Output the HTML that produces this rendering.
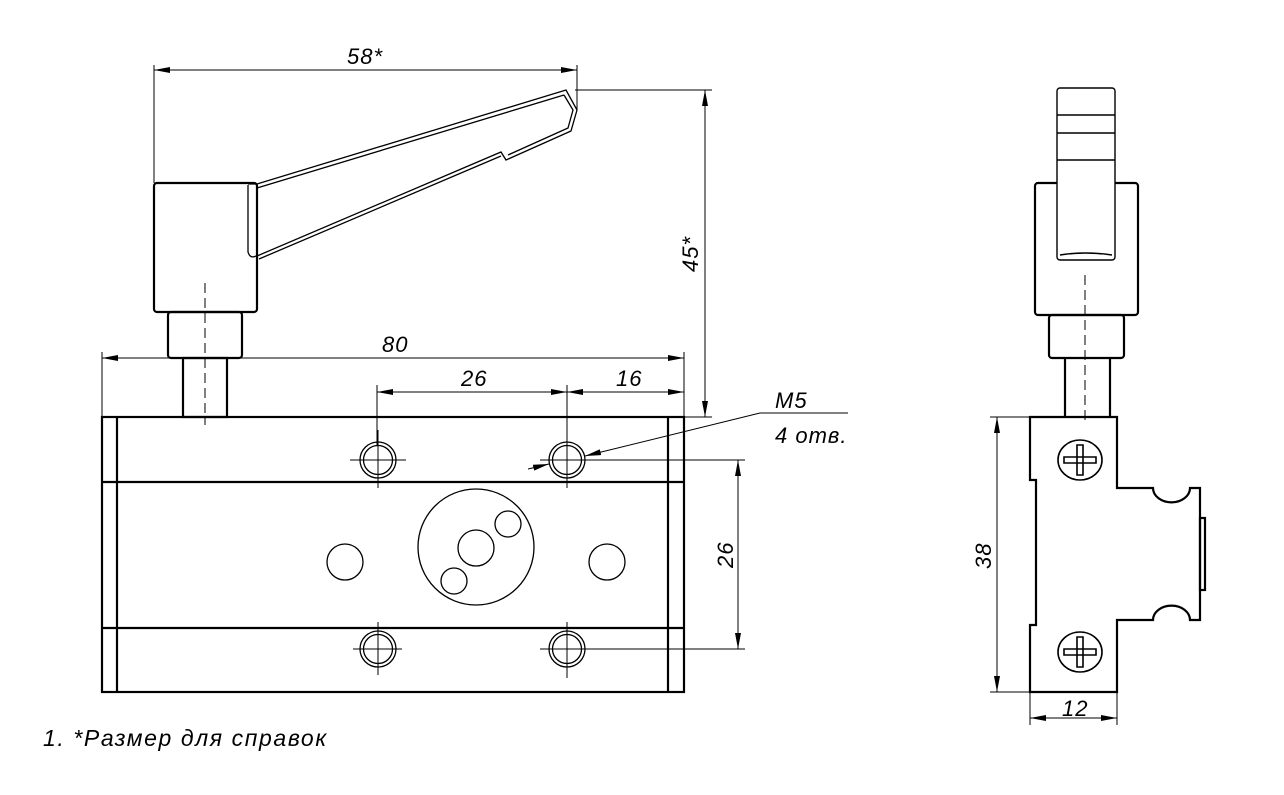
<!DOCTYPE html>
<html><head><meta charset="utf-8"><style>
html,body{margin:0;padding:0;background:#fff}
svg{display:block}
text{font-family:"Liberation Sans",sans-serif;font-style:italic;fill:#000}
</style></head><body>
<svg width="1284" height="795" viewBox="0 0 1284 795" xmlns="http://www.w3.org/2000/svg">
<defs>
<marker id="a" viewBox="0 0 16 6" refX="16" refY="3" markerWidth="16" markerHeight="6" orient="auto-start-reverse" markerUnits="userSpaceOnUse"><path d="M0,0 L16,3 L0,6 z" fill="#000"/></marker>
</defs>
<g fill="none" stroke="#000" stroke-width="2.2">
<rect x="102" y="417" width="582" height="275"/>
<line x1="117" y1="417" x2="117" y2="692"/>
<line x1="668" y1="417" x2="668" y2="692"/>
<line x1="102" y1="482" x2="684" y2="482"/>
<line x1="102" y1="628" x2="684" y2="628"/>
<rect x="183" y="358" width="44" height="59"/>
<rect x="168" y="312" width="74" height="46" rx="3"/>
<rect x="154" y="183" width="103" height="129" rx="3"/>
</g>
<g fill="none" stroke="#000" stroke-width="1.3">
<path d="M248,185 L248,252 Q250,259 256,256"/>
<path d="M248,184 L257,184 L566,90 L577,110 L571,131 L506,160 L501,152 L257,256"/>
<path d="M257,188 L564,95 M564,95 L573,110 L568,128 L508,155 M501,156 L259,259"/>
<circle cx="378" cy="460" r="18"/><circle cx="378" cy="460" r="14.5"/>
<circle cx="567" cy="460" r="18"/><circle cx="567" cy="460" r="14.5"/>
<circle cx="378" cy="649" r="18"/><circle cx="378" cy="649" r="14.5"/>
<circle cx="567" cy="649" r="18"/><circle cx="567" cy="649" r="14.5"/>
<circle cx="345" cy="562" r="18"/><circle cx="607" cy="562" r="18"/>
<circle cx="476" cy="547" r="58"/>
<circle cx="476" cy="548" r="18"/>
<circle cx="508" cy="524" r="13"/>
<circle cx="454" cy="581" r="13"/>
</g>
<g stroke="#000" stroke-width="1" fill="none">
<path d="M350,460H406M378,430V488M540,460H595M378,622V675M353,649H402M567,622V678M540,649H745M567,385V488"/>
<path d="M205,283V425" stroke-dasharray="10,5"/>
<path d="M154,65V183M577,65V110M575,90H712M102,352V417M684,352V417M377,385V445M567,460H745"/>
<line x1="154" y1="70" x2="577" y2="70" marker-start="url(#a)" marker-end="url(#a)"/>
<line x1="705" y1="90" x2="705" y2="417" marker-start="url(#a)" marker-end="url(#a)"/>
<path d="M684,417H712"/>
<line x1="102" y1="358" x2="684" y2="358" marker-start="url(#a)" marker-end="url(#a)"/>
<line x1="377" y1="392" x2="567" y2="392" marker-start="url(#a)" marker-end="url(#a)"/>
<line x1="567" y1="392" x2="684" y2="392" marker-start="url(#a)" marker-end="url(#a)"/>
<line x1="738" y1="460" x2="738" y2="649" marker-start="url(#a)" marker-end="url(#a)"/>
<line x1="760" y1="413" x2="585" y2="456" marker-end="url(#a)"/>
<line x1="528" y1="469" x2="549" y2="464" marker-end="url(#a)"/>
<path d="M760,413H848"/>
<path d="M990,417H1030M990,692H1030M1030,692V725M1117,692V725"/>
<line x1="997" y1="417" x2="997" y2="692" marker-start="url(#a)" marker-end="url(#a)"/>
<line x1="1030" y1="718" x2="1117" y2="718" marker-start="url(#a)" marker-end="url(#a)"/>
<path d="M1085,275V420" stroke-dasharray="10,5"/>
</g>
<g fill="none" stroke="#000" stroke-width="2.2">
<rect x="1035" y="183" width="103" height="132" rx="3"/>
<rect x="1049" y="315" width="75" height="43" rx="3"/>
<path d="M1065,358V417M1110,358V417"/>
<path d="M1030,417H1117V488H1153 A18,14 0 0 0 1190,488 H1200V620H1190 A18,14 0 0 0 1153,620 H1117V692H1030V625H1036V480H1030Z"/>
<rect x="1200" y="518" width="5" height="72"/>
</g>
<g fill="#fff" stroke="#000" stroke-width="1.4">
<rect x="1057" y="88" width="58" height="172" rx="3"/>
<path d="M1057,115H1115M1057,133H1115M1057,160H1115" fill="none"/>
<path d="M1060,255 Q1085,251 1112,255" fill="none"/>
</g>
<g fill="none" stroke="#000" stroke-width="1.6">
<ellipse cx="1080" cy="460" rx="22" ry="20"/>
<ellipse cx="1080" cy="652" rx="22" ry="20"/>
<path d="M1064,457h32v6h-32zM1077,445h6v30h-6z"/>
<path d="M1064,649h32v6h-32zM1077,637h6v30h-6z"/>
</g>
<g font-size="22" letter-spacing="1">
<text x="347" y="64">58*</text>
<text x="382" y="352">80</text>
<text x="461" y="386">26</text>
<text x="616" y="386">16</text>
<text x="775" y="408">M5</text>
<text x="775" y="443">4 отв.</text>
<text transform="translate(698,272) rotate(-90)">45*</text>
<text transform="translate(733,568) rotate(-90)">26</text>
<text transform="translate(991,569) rotate(-90)">38</text>
<text x="1062" y="716">12</text>
<text x="43" y="746" font-size="23" letter-spacing="1.6">1. *Размер для справок</text>
</g>
</svg>
</body></html>
